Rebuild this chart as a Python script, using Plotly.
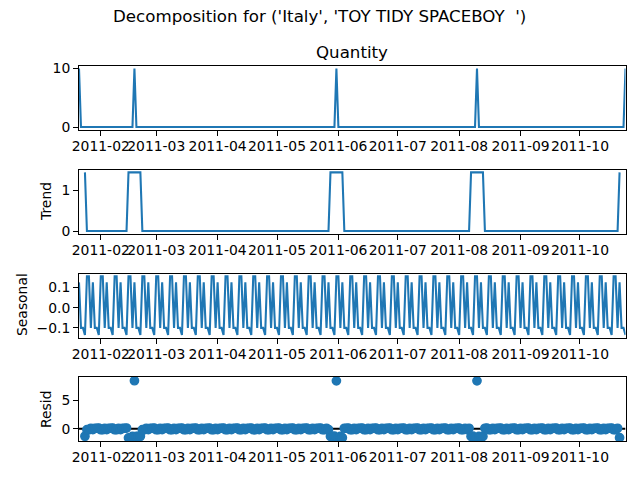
import pandas as pd
import plotly.graph_objects as go

first_day = "2011-01-21"
last_day = "2011-10-24"
dates = pd.date_range(first_day, last_day, freq="D")
month_ticks = ["2011-02-01", "2011-03-01", "2011-04-01", "2011-05-01", "2011-06-01",
               "2011-07-01", "2011-08-01", "2011-09-01", "2011-10-01"]
month_labels = [m[:7] for m in month_ticks]

N = None
quantity = [
    10,0,0,0,0,0,0, 0,0,0,0,0,0,0, 0,0,0,0,0,0,0, 0,0,0,0,0,0,0,
    10,0,0,0,0,0,0, 0,0,0,0,0,0,0, 0,0,0,0,0,0,0, 0,0,0,0,0,0,0,
    0,0,0,0,0,0,0, 0,0,0,0,0,0,0, 0,0,0,0,0,0,0, 0,0,0,0,0,0,0,
    0,0,0,0,0,0,0, 0,0,0,0,0,0,0, 0,0,0,0,0,0,0, 0,0,0,0,0,0,0,
    0,0,0,0,0,0,0, 0,0,0,0,0,0,0, 0,0,0,0,10,0,0, 0,0,0,0,0,0,0,
    0,0,0,0,0,0,0, 0,0,0,0,0,0,0, 0,0,0,0,0,0,0, 0,0,0,0,0,0,0,
    0,0,0,0,0,0,0, 0,0,0,0,0,0,0, 0,0,0,0,0,0,0, 0,0,0,0,0,0,0,
    0,0,0,0,0,10,0, 0,0,0,0,0,0,0, 0,0,0,0,0,0,0, 0,0,0,0,0,0,0,
    0,0,0,0,0,0,0, 0,0,0,0,0,0,0, 0,0,0,0,0,0,0, 0,0,0,0,0,0,0,
    0,0,0,0,0,0,0, 0,0,0,0,0,0,0, 0,0,0,0,0,0,0, 0,0,0,10,
]
trend = [
    N,N,N,1.43,0,0,0, 0,0,0,0,0,0,0, 0,0,0,0,0,0,0, 0,0,0,0,1.43,1.43,1.43,
    1.43,1.43,1.43,1.43,0,0,0, 0,0,0,0,0,0,0, 0,0,0,0,0,0,0, 0,0,0,0,0,0,0,
    0,0,0,0,0,0,0, 0,0,0,0,0,0,0, 0,0,0,0,0,0,0, 0,0,0,0,0,0,0,
    0,0,0,0,0,0,0, 0,0,0,0,0,0,0, 0,0,0,0,0,0,0, 0,0,0,0,0,0,0,
    0,0,0,0,0,0,0, 0,0,0,0,0,0,0, 0,1.43,1.43,1.43,1.43,1.43,1.43, 1.43,0,0,0,0,0,0,
    0,0,0,0,0,0,0, 0,0,0,0,0,0,0, 0,0,0,0,0,0,0, 0,0,0,0,0,0,0,
    0,0,0,0,0,0,0, 0,0,0,0,0,0,0, 0,0,0,0,0,0,0, 0,0,0,0,0,0,0,
    0,0,1.43,1.43,1.43,1.43,1.43, 1.43,1.43,0,0,0,0,0, 0,0,0,0,0,0,0, 0,0,0,0,0,0,0,
    0,0,0,0,0,0,0, 0,0,0,0,0,0,0, 0,0,0,0,0,0,0, 0,0,0,0,0,0,0,
    0,0,0,0,0,0,0, 0,0,0,0,0,0,0, 0,0,0,0,0,0,0, 1.43,N,N,N,
]
seasonal = [
    .125,-.1,-.1,-.135,.155,.155,-.1, .125,-.1,-.1,-.135,.155,.155,-.1, .125,-.1,-.1,-.135,.155,.155,-.1, .125,-.1,-.1,-.135,.155,.155,-.1,
    .125,-.1,-.1,-.135,.155,.155,-.1, .125,-.1,-.1,-.135,.155,.155,-.1, .125,-.1,-.1,-.135,.155,.155,-.1, .125,-.1,-.1,-.135,.155,.155,-.1,
    .125,-.1,-.1,-.135,.155,.155,-.1, .125,-.1,-.1,-.135,.155,.155,-.1, .125,-.1,-.1,-.135,.155,.155,-.1, .125,-.1,-.1,-.135,.155,.155,-.1,
    .125,-.1,-.1,-.135,.155,.155,-.1, .125,-.1,-.1,-.135,.155,.155,-.1, .125,-.1,-.1,-.135,.155,.155,-.1, .125,-.1,-.1,-.135,.155,.155,-.1,
    .125,-.1,-.1,-.135,.155,.155,-.1, .125,-.1,-.1,-.135,.155,.155,-.1, .125,-.1,-.1,-.135,.155,.155,-.1, .125,-.1,-.1,-.135,.155,.155,-.1,
    .125,-.1,-.1,-.135,.155,.155,-.1, .125,-.1,-.1,-.135,.155,.155,-.1, .125,-.1,-.1,-.135,.155,.155,-.1, .125,-.1,-.1,-.135,.155,.155,-.1,
    .125,-.1,-.1,-.135,.155,.155,-.1, .125,-.1,-.1,-.135,.155,.155,-.1, .125,-.1,-.1,-.135,.155,.155,-.1, .125,-.1,-.1,-.135,.155,.155,-.1,
    .125,-.1,-.1,-.135,.155,.155,-.1, .125,-.1,-.1,-.135,.155,.155,-.1, .125,-.1,-.1,-.135,.155,.155,-.1, .125,-.1,-.1,-.135,.155,.155,-.1,
    .125,-.1,-.1,-.135,.155,.155,-.1, .125,-.1,-.1,-.135,.155,.155,-.1, .125,-.1,-.1,-.135,.155,.155,-.1, .125,-.1,-.1,-.135,.155,.155,-.1,
    .125,-.1,-.1,-.135,.155,.155,-.1, .125,-.1,-.1,-.135,.155,.155,-.1, .125,-.1,-.1,-.135,.155,.155,-.1, .125,-.1,-.1,-.135,
]
resid = [
    N,N,N,-1.295,-.155,-.155,.1, -.125,.1,.1,.135,-.155,-.155,.1, -.125,.1,.1,.135,-.155,-.155,.1, -.125,.1,.1,.135,-1.585,-1.585,-1.33,
    8.445,-1.33,-1.33,-1.295,-.155,-.155,.1, -.125,.1,.1,.135,-.155,-.155,.1, -.125,.1,.1,.135,-.155,-.155,.1, -.125,.1,.1,.135,-.155,-.155,.1,
    -.125,.1,.1,.135,-.155,-.155,.1, -.125,.1,.1,.135,-.155,-.155,.1, -.125,.1,.1,.135,-.155,-.155,.1, -.125,.1,.1,.135,-.155,-.155,.1,
    -.125,.1,.1,.135,-.155,-.155,.1, -.125,.1,.1,.135,-.155,-.155,.1, -.125,.1,.1,.135,-.155,-.155,.1, -.125,.1,.1,.135,-.155,-.155,.1,
    -.125,.1,.1,.135,-.155,-.155,.1, -.125,.1,.1,.135,-.155,-.155,.1, -.125,-1.33,-1.33,-1.295,8.415,-1.585,-1.33, -1.555,.1,.1,.135,-.155,-.155,.1,
    -.125,.1,.1,.135,-.155,-.155,.1, -.125,.1,.1,.135,-.155,-.155,.1, -.125,.1,.1,.135,-.155,-.155,.1, -.125,.1,.1,.135,-.155,-.155,.1,
    -.125,.1,.1,.135,-.155,-.155,.1, -.125,.1,.1,.135,-.155,-.155,.1, -.125,.1,.1,.135,-.155,-.155,.1, -.125,.1,.1,.135,-.155,-.155,.1,
    -.125,.1,-1.33,-1.295,-1.585,8.415,-1.33, -1.555,-1.33,.1,.135,-.155,-.155,.1, -.125,.1,.1,.135,-.155,-.155,.1, -.125,.1,.1,.135,-.155,-.155,.1,
    -.125,.1,.1,.135,-.155,-.155,.1, -.125,.1,.1,.135,-.155,-.155,.1, -.125,.1,.1,.135,-.155,-.155,.1, -.125,.1,.1,.135,-.155,-.155,.1,
    -.125,.1,.1,.135,-.155,-.155,.1, -.125,.1,.1,.135,-.155,-.155,.1, -.125,.1,.1,.135,-.155,-.155,.1, -1.555,N,N,N,
]
zero_x = [first_day, last_day]
zero_y = [0, 0]

W, H = 640, 480
LEFT, RIGHT = 79, 625.5
panels = [(65.5, 130), (169.5, 234), (273.5, 338), (376.5, 441)]
y_ranges = [(-0.5, 10.5), (-0.0715, 1.5), (-0.15, 0.169), (-2.14, 9.18)]
y_ticks = [([0, 10], ["0", "10"]), ([0, 1], ["0", "1"]),
           ([-0.1, 0, 0.1], ["\u22120.1", "0.0", "0.1"]), ([0, 5], ["0", "5"])]
BLUE = "#1f77b4"
FONT = "DejaVu Sans"

fig = go.Figure()
fig.add_trace(go.Scatter(x=dates, y=quantity, mode="lines", line=dict(color=BLUE, width=2.08), xaxis="x", yaxis="y"))
fig.add_trace(go.Scatter(x=dates, y=trend, mode="lines", line=dict(color=BLUE, width=2.08), xaxis="x2", yaxis="y2"))
fig.add_trace(go.Scatter(x=dates, y=seasonal, mode="lines", line=dict(color=BLUE, width=2.08), xaxis="x3", yaxis="y3"))
fig.add_trace(go.Scatter(x=zero_x, y=zero_y, mode="lines", line=dict(color="black", width=2.08), xaxis="x4", yaxis="y4"))
fig.add_trace(go.Scatter(x=dates, y=resid, mode="markers",
                         marker=dict(color=BLUE, size=8.33, line=dict(color=BLUE, width=1.39)),
                         xaxis="x4", yaxis="y4"))

layout = dict(
    template="none",
    width=W, height=H, autosize=False, showlegend=False,
    margin=dict(l=0, r=0, t=0, b=0, pad=0),
    paper_bgcolor="white", plot_bgcolor="white",
    font=dict(family=FONT, size=13.9, color="black"),
)
for i, ((top, bottom), yr, (tv, tt)) in enumerate(zip(panels, y_ranges, y_ticks)):
    s = "" if i == 0 else str(i + 1)
    common = dict(automargin=False, showline=True, mirror=True, linecolor="black", linewidth=1.1, showgrid=False,
                  zeroline=False, ticks="outside", ticklen=4.9, tickwidth=1.1, tickcolor="black",
                  tickfont=dict(family=FONT, size=13.9, color="black"), tickmode="array")
    layout["xaxis" + s] = dict(domain=[LEFT / W, RIGHT / W], anchor="y" + s, type="date",
                               range=[first_day, last_day], tickvals=month_ticks, ticktext=month_labels,
                               tickangle=0, ticklabelstandoff=-2, **common)
    layout["yaxis" + s] = dict(domain=[1 - bottom / H, 1 - top / H], anchor="x" + s,
                               range=list(yr), tickvals=tv, ticktext=tt, **common)
fig.update_layout(**layout)


def note(text, x, y, size=13.9, angle=0):
    fig.add_annotation(text=text, x=x / W, y=1 - y / H, xref="paper", yref="paper", showarrow=False,
                       xanchor="center", yanchor="middle", textangle=angle,
                       font=dict(family=FONT, size=size, color="black"))


note("Decomposition for ('Italy', 'TOY TIDY SPACEBOY  ')", 319.5, 17, 16.67)
note("Quantity", 352, 52, 16.67)
note("Trend", 46, 202, 13.9, -90)
note("Seasonal", 22, 305, 13.9, -90)
note("Resid", 46, 409, 13.9, -90)

fig.write_html("out.html", config={"displayModeBar": False}, post_script="document.body.style.margin='0';")
